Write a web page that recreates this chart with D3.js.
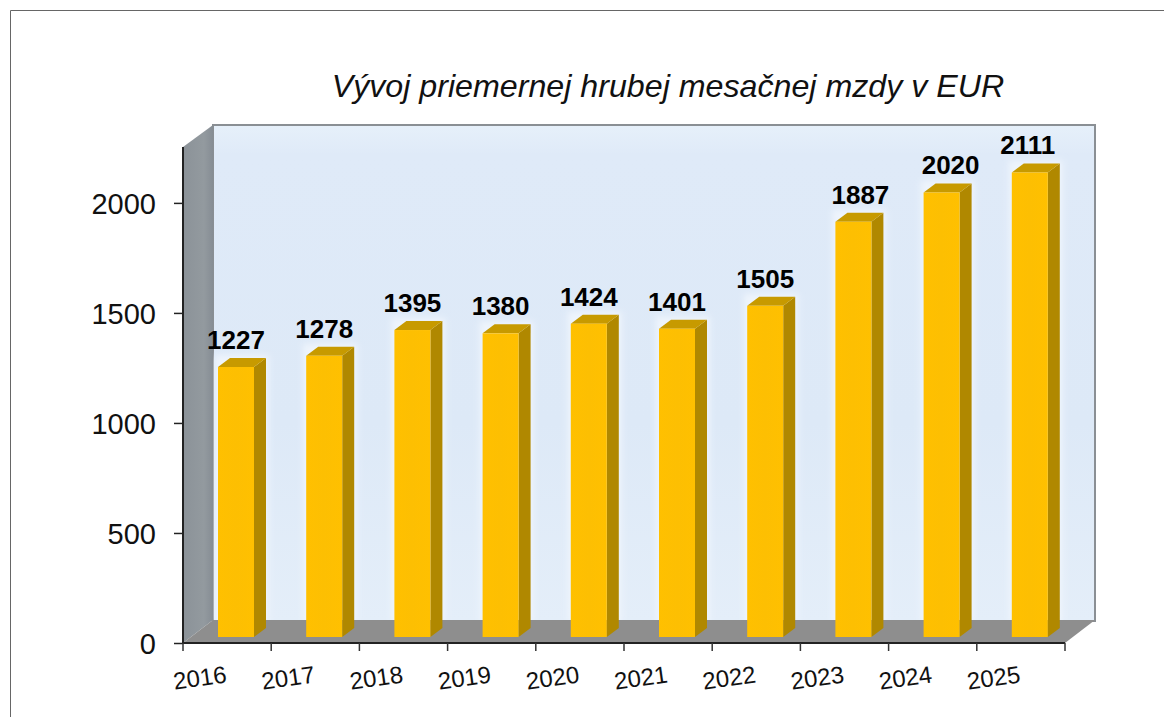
<!DOCTYPE html>
<html>
<head>
<meta charset="utf-8">
<script src="https://cdn.jsdelivr.net/npm/d3@7"></script>
<style>
  html, body { margin: 0; padding: 0; background: #fff; }
  svg { display: block; font-family: "Liberation Sans", Arial, sans-serif; }
</style>
</head>
<body>
<svg id="chart" width="1164" height="717"></svg>
<script>
var years = ['2016','2017','2018','2019','2020','2021','2022','2023','2024','2025'];
var wages = [1227, 1278, 1395, 1380, 1424, 1401, 1505, 1887, 2020, 2111];
var yTicks = [0, 500, 1000, 1500, 2000];
var title = 'Vývoj priemernej hrubej mesačnej mzdy v EUR';

var svg = d3.select('#chart');
var defs = svg.append('defs');

// front plane of the chart box, depth goes up and to the right
var x = d3.scaleBand().domain(years).range([183, 1065]);
var y = d3.scaleLinear().domain([0, 2254]).range([643, 147]);
var depthX = 30, depthY = 23;
var barW = 36, barInset = 35, barDX = 12, barDY = 9, barLift = 6;
var labelShift = [0, 0, 0, 0, 0, 0, 0, 7, 9, -2];

function grad(id, x2, y2, stops) {
  var g = defs.append('linearGradient').attr('id', id)
    .attr('x1', 0).attr('y1', 0).attr('x2', x2).attr('y2', y2);
  stops.forEach(function(s) {
    g.append('stop').attr('offset', s[0]).attr('stop-color', s[1]);
  });
}
grad('wall', 0, 1, [[0, '#e6f0fa'], [0.06, '#dfeaf8'], [0.6, '#dde9f7'], [1, '#e4eef9']]);
grad('side', 1, 0, [[0, '#8b9298'], [0.7, '#939a9f'], [1, '#868d94']]);
grad('face', 1, 0, [[0, '#ffc000'], [0.5, '#fdbf02'], [1, '#ffc000']]);
defs.append('filter').attr('id', 'glow').attr('x', '-40%').attr('width', '180%')
  .append('feGaussianBlur').attr('stdDeviation', 3);

function poly(pts) { return pts.map(function(p) { return p.join(','); }).join(' '); }

// page frame
svg.append('path').attr('d', 'M10.5,717V10.5H1164')
  .attr('fill', 'none').attr('stroke', '#666').attr('stroke-width', 1);

var x0 = x.range()[0], x1 = x.range()[1], y0 = y(0), yT = y.range()[1];

// box: back wall, left wall, floor
svg.append('rect')
  .attr('x', x0 + depthX).attr('y', yT - depthY + 1)
  .attr('width', x1 - x0).attr('height', y0 - yT)
  .attr('fill', 'url(#wall)').attr('stroke', '#8a8f94').attr('stroke-width', 2);

// pale halo the bars leave on the wall
svg.append('g').selectAll('rect').data(wages).join('rect')
  .attr('x', function(d, i) { return x(years[i]) + barInset - 3; })
  .attr('y', function(d) { return y(d) - barLift - barDY - 3; })
  .attr('width', barW + barDX + 6)
  .attr('height', function(d) { return y(0) - y(d) - depthY + barDY + barLift + 6; })
  .attr('fill', '#eef4fc').attr('filter', 'url(#glow)');

svg.append('polygon')
  .attr('points', poly([[x0, yT], [x0 + depthX, yT - depthY + 1], [x0 + depthX, y0 - depthY], [x0, y0]]))
  .attr('fill', 'url(#side)');
svg.append('polygon')
  .attr('points', poly([[x0, y0], [x0 + depthX, y0 - depthY], [x1 + depthX, y0 - depthY], [x1, y0]]))
  .attr('fill', '#8e8e8e');

// bars
var bars = svg.append('g').selectAll('g').data(wages).join('g')
  .attr('transform', function(d, i) {
    return 'translate(' + (x(years[i]) + barInset) + ',' + (-barLift) + ')';
  });
bars.append('polygon')
  .attr('points', function(d) {
    return poly([[barW, y(d)], [barW + barDX, y(d) - barDY], [barW + barDX, y(0) - barDY], [barW, y(0)]]);
  })
  .attr('fill', '#b08800');
bars.append('polygon')
  .attr('points', function(d) {
    return poly([[0, y(d)], [barDX, y(d) - barDY], [barW + barDX, y(d) - barDY], [barW, y(d)]]);
  })
  .attr('fill', '#c79a00');
bars.append('rect')
  .attr('width', barW)
  .attr('y', function(d) { return y(d); })
  .attr('height', function(d) { return y(0) - y(d); })
  .attr('fill', 'url(#face)');

// value labels
svg.append('g').selectAll('text').data(wages).join('text')
  .attr('x', function(d, i) { return x(years[i]) + barInset + barW / 2 + labelShift[i]; })
  .attr('y', function(d) { return y(d) - barLift - 18; })
  .attr('text-anchor', 'middle')
  .attr('font-size', 26).attr('font-weight', 'bold').attr('fill', '#000')
  .text(function(d) { return d; });

// axes
var yAxis = svg.append('g').attr('transform', 'translate(' + x0 + ',0)')
  .call(d3.axisLeft(y).tickValues(yTicks).tickFormat(d3.format('d')).tickSize(9).tickPadding(18).tickSizeOuter(0));
yAxis.select('.domain').attr('d', 'M0,' + yT + 'V' + y0).attr('stroke', '#222').attr('stroke-width', 2);
yAxis.selectAll('line').attr('stroke', '#222').attr('stroke-width', 1.5);
yAxis.selectAll('text').attr('font-family', '"Liberation Sans", Arial, sans-serif')
  .attr('font-size', 29).attr('fill', '#111').attr('dy', '0.36em');

var xAxis = svg.append('g').attr('transform', 'translate(0,' + y0 + ')')
  .call(d3.axisBottom(x).tickSize(0).tickFormat(function() { return ''; }));
xAxis.select('.domain').attr('d', 'M' + x0 + ',0H' + x1).attr('stroke', '#222').attr('stroke-width', 2);
xAxis.selectAll('.tick').remove();

// ticks sit on the band edges, labels are tilted under them
xAxis.append('g').selectAll('line').data(years.concat(['end'])).join('line')
  .attr('x1', function(d, i) { return x0 + i * x.step(); })
  .attr('x2', function(d, i) { return x0 + i * x.step(); })
  .attr('y1', 0).attr('y2', 8)
  .attr('stroke', '#333').attr('stroke-width', 1.5);
svg.append('g').selectAll('text').data(years).join('text')
  .attr('transform', function(d) {
    return 'translate(' + (x(d) + 18) + ',686) rotate(-8)';
  })
  .attr('text-anchor', 'middle')
  .attr('font-size', 24).attr('fill', '#111')
  .text(function(d) { return d; });

svg.append('text')
  .attr('x', 668).attr('y', 97)
  .attr('text-anchor', 'middle')
  .attr('font-size', 32.2).attr('font-style', 'italic').attr('fill', '#111')
  .text(title);
</script>
</body>
</html>
